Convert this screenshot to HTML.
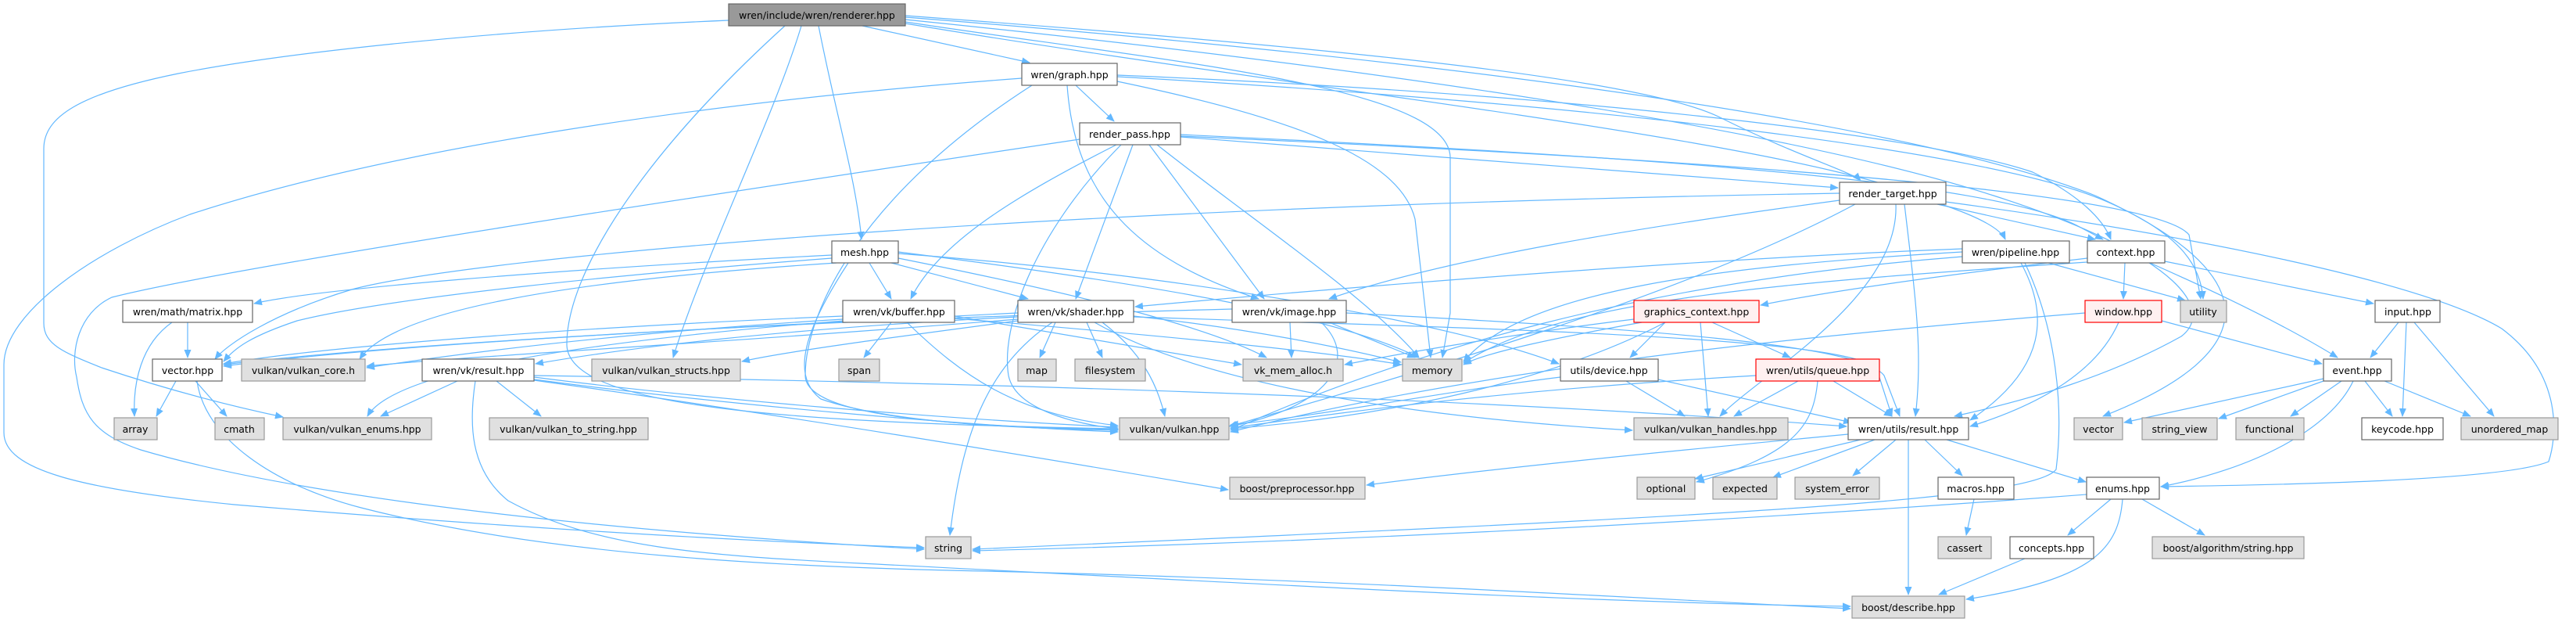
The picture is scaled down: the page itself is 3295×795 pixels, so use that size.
<!DOCTYPE html>
<html><head><meta charset="utf-8"><style>
html,body{margin:0;padding:0;background:#fff;}
svg{display:block;}
text{font-family:"DejaVu Sans","Liberation Sans",sans-serif;font-size:12.5px;fill:#000;}
.e path{fill:none;stroke:#63b8ff;stroke-width:1.2;}
.w{fill:#fff;stroke:#666;stroke-width:1.2;}
.g{fill:#e0e0e0;stroke:#999;stroke-width:1.2;}
.r{fill:#fff0f0;stroke:#ff0000;stroke-width:1.2;}
.d{fill:#999;stroke:#666;stroke-width:1.2;}
</style></head><body>
<svg width="3295" height="795" viewBox="0 0 3295 795" xmlns="http://www.w3.org/2000/svg">
<defs><marker id="a" markerWidth="11" markerHeight="9" refX="10" refY="4.5" orient="auto" markerUnits="userSpaceOnUse"><path d="M0,0 L11,4.5 L0,9 z" fill="#63b8ff"/></marker></defs>
<g class="e">
<path d="M932,26 C600,40 350,70 228,94 C100,120 56,150 56,190 L56,413 C56,440 80,450 130,470 C220,500 300,520 362,533" marker-end="url(#a)"/>
<path d="M1004,33 C820,200 725,350 725,440 C725,520 1000,540 1430,548" marker-end="url(#a)"/>
<path d="M1025,33 C990,150 900,330 861,457" marker-end="url(#a)"/>
<path d="M1047,33 C1070,150 1095,230 1102,306" marker-end="url(#a)"/>
<path d="M1103,33 L1317,80" marker-end="url(#a)"/>
<path d="M1158,28 C1500,80 1850,110 1855,200 L1855,400 L1845,457" marker-end="url(#a)"/>
<path d="M1158,20 C1700,60 2100,100 2200,150 C2300,200 2370,220 2380,231" marker-end="url(#a)"/>
<path d="M1158,22 C1900,80 2450,160 2680,250 C2900,350 2900,450 2690,532" marker-end="url(#a)"/>
<path d="M1158,25 C1800,90 2300,170 2550,250 C2800,330 2830,400 2790,430 C2700,480 2600,510 2500,532" marker-end="url(#a)"/>
<path d="M1158,30 C1700,120 2300,180 2480,260 C2540,280 2560,295 2565,306" marker-end="url(#a)"/>
<path d="M1307,100 C900,130 500,190 243,274 C120,320 5,400 5,466 L5,553 C5,600 100,625 300,645 C600,670 900,690 1182,700" marker-end="url(#a)"/>
<path d="M1320,109 C1100,250 1030,400 1030,480 C1030,530 1200,545 1430,549" marker-end="url(#a)"/>
<path d="M1376,109 L1425,155" marker-end="url(#a)"/>
<path d="M1365,109 C1375,250 1450,330 1610,382" marker-end="url(#a)"/>
<path d="M1429,104 C1650,150 1790,200 1810,280 L1830,457" marker-end="url(#a)"/>
<path d="M1429,96 C2000,120 2450,170 2600,220 C2660,250 2690,280 2700,306" marker-end="url(#a)"/>
<path d="M1429,98 C2000,130 2550,190 2700,260 C2790,300 2815,340 2818,382" marker-end="url(#a)"/>
<path d="M1381,178 C900,250 300,340 143,380 C100,400 90,450 98,482 C105,530 120,555 180,575 C400,640 800,680 1182,702" marker-end="url(#a)"/>
<path d="M1428,185 C1300,250 1200,310 1165,382" marker-end="url(#a)"/>
<path d="M1434,185 C1320,300 1280,420 1290,480 C1300,530 1400,545 1430,548" marker-end="url(#a)"/>
<path d="M1449,185 L1376,382" marker-end="url(#a)"/>
<path d="M1470,185 L1617,382" marker-end="url(#a)"/>
<path d="M1480,185 C1600,280 1750,380 1815,457" marker-end="url(#a)"/>
<path d="M1510,175 L2351,240" marker-end="url(#a)"/>
<path d="M1510,172 C2100,200 2550,230 2660,290 L2690,306" marker-end="url(#a)"/>
<path d="M1510,174 C2100,200 2750,240 2800,300 L2815,382" marker-end="url(#a)"/>
<path d="M2353,247 C1300,265 600,330 450,370 C350,400 290,440 275,459" marker-end="url(#a)"/>
<path d="M2353,256 C2100,290 1850,330 1700,382" marker-end="url(#a)"/>
<path d="M2373,261 C2150,380 1800,480 1572,545" marker-end="url(#a)"/>
<path d="M2425,261 C2430,380 2250,480 2200,532" marker-end="url(#a)"/>
<path d="M2436,261 C2450,380 2460,450 2450,532" marker-end="url(#a)"/>
<path d="M2478,261 L2680,306" marker-end="url(#a)"/>
<path d="M2489,258 C2800,300 3100,360 3200,420 C3280,480 3270,560 3260,590 C3200,615 2900,620 2764,622" marker-end="url(#a)"/>
<path d="M1064,326 C700,345 400,370 325,388" marker-end="url(#a)"/>
<path d="M1064,330 C800,350 500,380 380,410 C320,430 300,445 286,462" marker-end="url(#a)"/>
<path d="M1070,336 C700,360 500,400 460,459" marker-end="url(#a)"/>
<path d="M1112,336 L1140,382" marker-end="url(#a)"/>
<path d="M1140,336 L1315,382" marker-end="url(#a)"/>
<path d="M1085,336 C1030,420 1010,480 1050,510 C1150,545 1350,548 1430,550" marker-end="url(#a)"/>
<path d="M1149,330 C1400,380 1550,420 1620,457" marker-end="url(#a)"/>
<path d="M1149,322 C1450,360 1700,400 1815,457" marker-end="url(#a)"/>
<path d="M1149,324 C1500,350 1850,410 1994,465" marker-end="url(#a)"/>
<path d="M1078,404 C700,420 400,445 286,465" marker-end="url(#a)"/>
<path d="M1078,408 C800,425 600,450 469,470" marker-end="url(#a)"/>
<path d="M1080,410 C700,440 500,480 470,532" marker-end="url(#a)"/>
<path d="M1140,412 L1105,457" marker-end="url(#a)"/>
<path d="M1160,412 C1230,480 1300,530 1430,544" marker-end="url(#a)"/>
<path d="M1221,404 L1588,466" marker-end="url(#a)"/>
<path d="M1221,407 C1500,430 1700,450 1792,466" marker-end="url(#a)"/>
<path d="M1302,400 C900,420 500,440 286,466" marker-end="url(#a)"/>
<path d="M1302,405 C1000,420 800,445 685,465" marker-end="url(#a)"/>
<path d="M1302,410 C1150,430 1000,450 949,462" marker-end="url(#a)"/>
<path d="M1302,408 C900,440 600,455 469,468" marker-end="url(#a)"/>
<path d="M1350,412 L1330,457" marker-end="url(#a)"/>
<path d="M1390,412 L1410,457" marker-end="url(#a)"/>
<path d="M1346,412 C1260,470 1230,560 1215,684" marker-end="url(#a)"/>
<path d="M1410,412 C1460,450 1480,490 1490,532" marker-end="url(#a)"/>
<path d="M1400,412 C1520,480 1750,530 2088,550" marker-end="url(#a)"/>
<path d="M1450,404 C1600,420 1720,445 1792,463" marker-end="url(#a)"/>
<path d="M1450,405 C1900,420 2350,430 2400,470 L2420,532" marker-end="url(#a)"/>
<path d="M1576,395 C1000,410 500,440 286,468" marker-end="url(#a)"/>
<path d="M1650,412 L1652,457" marker-end="url(#a)"/>
<path d="M1690,412 C1740,460 1700,520 1574,545" marker-end="url(#a)"/>
<path d="M1700,412 L1810,457" marker-end="url(#a)"/>
<path d="M1722,400 C2100,420 2380,440 2410,480 L2430,532" marker-end="url(#a)"/>
<path d="M585,487 L487,532" marker-end="url(#a)"/>
<path d="M635,487 L692,532" marker-end="url(#a)"/>
<path d="M608,487 C600,540 600,600 650,640 C760,700 900,710 1100,720 C1500,740 2000,770 2367,775" marker-end="url(#a)"/>
<path d="M683,482 C900,510 1200,535 1430,546" marker-end="url(#a)"/>
<path d="M683,485 C950,520 1250,545 1430,552" marker-end="url(#a)"/>
<path d="M683,486 C1000,530 1300,580 1571,626" marker-end="url(#a)"/>
<path d="M683,480 C1300,490 1900,510 2362,545" marker-end="url(#a)"/>
<path d="M225,487 L200,532" marker-end="url(#a)"/>
<path d="M250,487 L290,532" marker-end="url(#a)"/>
<path d="M252,487 C262,560 350,620 462,649 C700,710 1000,725 1260,730 C1700,740 2100,765 2367,778" marker-end="url(#a)"/>
<path d="M240,412 L240,457" marker-end="url(#a)"/>
<path d="M220,412 C180,440 170,490 172,532" marker-end="url(#a)"/>
<path d="M2090,408 C1950,425 1800,450 1720,466" marker-end="url(#a)"/>
<path d="M2100,412 C2000,430 1900,450 1872,466" marker-end="url(#a)"/>
<path d="M2130,412 C2000,480 1800,530 1574,548" marker-end="url(#a)"/>
<path d="M2130,412 L2085,457" marker-end="url(#a)"/>
<path d="M2175,412 L2185,532" marker-end="url(#a)"/>
<path d="M2190,412 L2290,457" marker-end="url(#a)"/>
<path d="M1996,482 C1850,500 1700,530 1574,543" marker-end="url(#a)"/>
<path d="M2080,487 L2155,532" marker-end="url(#a)"/>
<path d="M2121,485 L2368,540" marker-end="url(#a)"/>
<path d="M2246,480 C1900,500 1700,530 1574,547" marker-end="url(#a)"/>
<path d="M2300,487 L2218,532" marker-end="url(#a)"/>
<path d="M2345,487 L2420,532" marker-end="url(#a)"/>
<path d="M2325,487 C2320,540 2300,580 2170,616" marker-end="url(#a)"/>
<path d="M2364,555 C2100,580 1900,600 1748,620" marker-end="url(#a)"/>
<path d="M2380,562 L2168,612" marker-end="url(#a)"/>
<path d="M2398,562 L2268,610" marker-end="url(#a)"/>
<path d="M2425,562 L2370,608" marker-end="url(#a)"/>
<path d="M2441,562 L2441,760" marker-end="url(#a)"/>
<path d="M2462,562 L2510,608" marker-end="url(#a)"/>
<path d="M2490,562 L2668,616" marker-end="url(#a)"/>
<path d="M2510,318 C2200,330 1800,360 1452,392" marker-end="url(#a)"/>
<path d="M2510,322 C2200,340 1950,370 1872,462" marker-end="url(#a)"/>
<path d="M2620,336 L2795,384" marker-end="url(#a)"/>
<path d="M2585,336 C2620,400 2620,470 2520,537" marker-end="url(#a)"/>
<path d="M2590,336 C2630,420 2640,520 2630,600 C2600,640 2200,660 1244,702" marker-end="url(#a)"/>
<path d="M2510,328 C2100,360 1800,450 1574,550" marker-end="url(#a)"/>
<path d="M2670,330 C2500,350 2350,370 2252,390" marker-end="url(#a)"/>
<path d="M2718,336 L2716,382" marker-end="url(#a)"/>
<path d="M2750,336 C2850,380 2930,420 2990,457" marker-end="url(#a)"/>
<path d="M2769,334 L3036,388" marker-end="url(#a)"/>
<path d="M2670,335 C2300,360 2000,380 1872,464" marker-end="url(#a)"/>
<path d="M2710,412 C2680,480 2600,520 2520,545" marker-end="url(#a)"/>
<path d="M2765,410 L2970,465" marker-end="url(#a)"/>
<path d="M2667,400 C2300,430 1900,470 1574,552" marker-end="url(#a)"/>
<path d="M3068,412 L3032,457" marker-end="url(#a)"/>
<path d="M3078,412 L3073,532" marker-end="url(#a)"/>
<path d="M3088,412 L3190,532" marker-end="url(#a)"/>
<path d="M2972,484 L2717,540" marker-end="url(#a)"/>
<path d="M2972,487 L2838,535" marker-end="url(#a)"/>
<path d="M2995,487 L2930,532" marker-end="url(#a)"/>
<path d="M3025,487 L3060,532" marker-end="url(#a)"/>
<path d="M3050,487 L3160,532" marker-end="url(#a)"/>
<path d="M3010,487 C2980,550 2880,600 2764,622" marker-end="url(#a)"/>
<path d="M2669,632 C2300,660 1800,690 1244,704" marker-end="url(#a)"/>
<path d="M2700,638 L2645,684" marker-end="url(#a)"/>
<path d="M2740,638 L2820,684" marker-end="url(#a)"/>
<path d="M2715,638 C2710,700 2680,740 2515,766" marker-end="url(#a)"/>
<path d="M2590,714 L2480,760" marker-end="url(#a)"/>
<path d="M2525,638 L2515,684" marker-end="url(#a)"/>
</g>
<g text-anchor="middle">
<rect class="d" x="932" y="5" width="226" height="28"/><text x="1045" y="24">wren/include/wren/renderer.hpp</text>
<rect class="w" x="1307" y="81" width="122" height="28"/><text x="1368" y="100">wren/graph.hpp</text>
<rect class="w" x="1381" y="157" width="129" height="28"/><text x="1445" y="176">render_pass.hpp</text>
<rect class="w" x="2353" y="233" width="136" height="28"/><text x="2421" y="252">render_target.hpp</text>
<rect class="w" x="1064" y="308" width="85" height="28"/><text x="1106" y="327">mesh.hpp</text>
<rect class="w" x="2510" y="308" width="137" height="28"/><text x="2578" y="327">wren/pipeline.hpp</text>
<rect class="w" x="2670" y="308" width="99" height="28"/><text x="2719" y="327">context.hpp</text>
<rect class="w" x="157" y="384" width="166" height="28"/><text x="240" y="403">wren/math/matrix.hpp</text>
<rect class="w" x="1078" y="384" width="143" height="28"/><text x="1150" y="403">wren/vk/buffer.hpp</text>
<rect class="w" x="1302" y="384" width="148" height="28"/><text x="1376" y="403">wren/vk/shader.hpp</text>
<rect class="w" x="1576" y="384" width="146" height="28"/><text x="1649" y="403">wren/vk/image.hpp</text>
<rect class="r" x="2090" y="384" width="160" height="28"/><text x="2170" y="403">graphics_context.hpp</text>
<rect class="r" x="2667" y="384" width="98" height="28"/><text x="2716" y="403">window.hpp</text>
<rect class="g" x="2789" y="384" width="59" height="28"/><text x="2818" y="403">utility</text>
<rect class="w" x="3038" y="384" width="83" height="28"/><text x="3080" y="403">input.hpp</text>
<rect class="w" x="195" y="459" width="89" height="28"/><text x="240" y="478">vector.hpp</text>
<rect class="g" x="309" y="459" width="158" height="28"/><text x="388" y="478">vulkan/vulkan_core.h</text>
<rect class="w" x="540" y="459" width="143" height="28"/><text x="612" y="478">wren/vk/result.hpp</text>
<rect class="g" x="757" y="459" width="190" height="28"/><text x="852" y="478">vulkan/vulkan_structs.hpp</text>
<rect class="g" x="1073" y="459" width="52" height="28"/><text x="1099" y="478">span</text>
<rect class="g" x="1302" y="459" width="49" height="28"/><text x="1326" y="478">map</text>
<rect class="g" x="1375" y="459" width="90" height="28"/><text x="1420" y="478">filesystem</text>
<rect class="g" x="1590" y="459" width="128" height="28"/><text x="1654" y="478">vk_mem_alloc.h</text>
<rect class="g" x="1794" y="459" width="76" height="28"/><text x="1832" y="478">memory</text>
<rect class="w" x="1996" y="459" width="125" height="28"/><text x="2058" y="478">utils/device.hpp</text>
<rect class="r" x="2246" y="459" width="158" height="28"/><text x="2325" y="478">wren/utils/queue.hpp</text>
<rect class="w" x="2972" y="459" width="87" height="28"/><text x="3015" y="478">event.hpp</text>
<rect class="g" x="146" y="534" width="55" height="28"/><text x="173" y="553">array</text>
<rect class="g" x="275" y="534" width="63" height="28"/><text x="306" y="553">cmath</text>
<rect class="g" x="362" y="534" width="190" height="28"/><text x="457" y="553">vulkan/vulkan_enums.hpp</text>
<rect class="g" x="626" y="534" width="203" height="28"/><text x="727" y="553">vulkan/vulkan_to_string.hpp</text>
<rect class="g" x="1432" y="534" width="140" height="28"/><text x="1502" y="553">vulkan/vulkan.hpp</text>
<rect class="g" x="2090" y="534" width="197" height="28"/><text x="2188" y="553">vulkan/vulkan_handles.hpp</text>
<rect class="w" x="2364" y="534" width="154" height="28"/><text x="2441" y="553">wren/utils/result.hpp</text>
<rect class="g" x="2653" y="534" width="62" height="28"/><text x="2684" y="553">vector</text>
<rect class="g" x="2740" y="534" width="96" height="28"/><text x="2788" y="553">string_view</text>
<rect class="g" x="2860" y="534" width="87" height="28"/><text x="2903" y="553">functional</text>
<rect class="w" x="3021" y="534" width="104" height="28"/><text x="3073" y="553">keycode.hpp</text>
<rect class="g" x="3148" y="534" width="124" height="28"/><text x="3210" y="553">unordered_map</text>
<rect class="g" x="1573" y="610" width="173" height="28"/><text x="1659" y="629">boost/preprocessor.hpp</text>
<rect class="g" x="2094" y="610" width="74" height="28"/><text x="2131" y="629">optional</text>
<rect class="g" x="2191" y="610" width="82" height="28"/><text x="2232" y="629">expected</text>
<rect class="g" x="2296" y="610" width="108" height="28"/><text x="2350" y="629">system_error</text>
<rect class="w" x="2479" y="610" width="97" height="28"/><text x="2527" y="629">macros.hpp</text>
<rect class="w" x="2669" y="610" width="93" height="28"/><text x="2715" y="629">enums.hpp</text>
<rect class="g" x="1184" y="686" width="58" height="28"/><text x="1213" y="705">string</text>
<rect class="g" x="2479" y="686" width="68" height="28"/><text x="2513" y="705">cassert</text>
<rect class="w" x="2571" y="686" width="107" height="28"/><text x="2624" y="705">concepts.hpp</text>
<rect class="g" x="2753" y="686" width="194" height="28"/><text x="2850" y="705">boost/algorithm/string.hpp</text>
<rect class="g" x="2369" y="762" width="144" height="28"/><text x="2441" y="781">boost/describe.hpp</text>
</g>
</svg>
</body></html>
